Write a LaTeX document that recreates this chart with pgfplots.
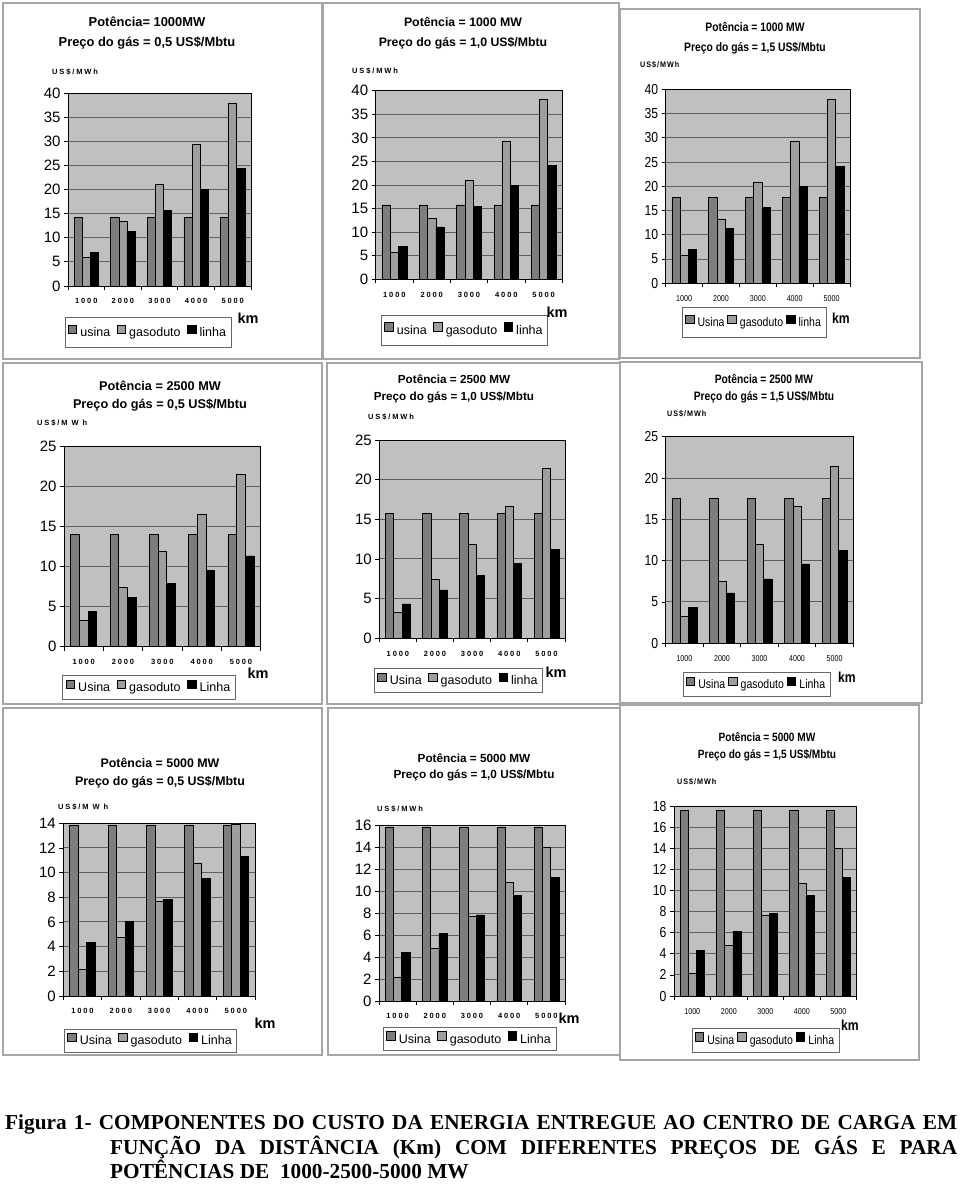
\documentclass[border=0pt]{standalone}
\usepackage{fontspec}
\setmainfont{Liberation Sans}
\newfontfamily\cond[FakeStretch=0.84]{Liberation Sans}
\newfontfamily\spaced[LetterSpace=25]{Liberation Sans}
\newfontfamily\spacedcond[LetterSpace=12,FakeStretch=0.9]{Liberation Sans}
\newfontfamily\capfont{Liberation Serif}
\usepackage{pgfplots}
\pgfplotsset{compat=1.18}
\newcommand\fs[1]{\fontsize{#1}{#1}\selectfont}
\definecolor{bgc}{RGB}{192,192,192}
\definecolor{gridc}{RGB}{95,95,95}
\definecolor{usc}{RGB}{125,125,125}
\definecolor{gac}{RGB}{158,158,158}
\definecolor{framec}{RGB}{165,165,165}

\pgfplotsset{
  panel/.style={
    scale only axis, bar width=0.2222,
    xmin=-0.5, xmax=4.5, ymin=0,
    xtick={0,1,2,3,4}, xticklabels={1000,2000,3000,4000,5000},
    minor xtick={-0.5,0.5,1.5,2.5,3.5,4.5},
    major x tick style={draw=none},
    tick align=outside, tick pos=left,
    major tick length=4pt, minor tick length=4pt,
    tick style={black, line width=0.8pt},
    ymajorgrids, grid style={gridc, line width=1pt},
    axis background/.style={fill=bgc},
    axis line style={black, line width=0.8pt},
    /pgf/number format/assume math mode=true,
    yticklabel style={font=\fs{15}},
    xticklabel style={font=\spaced\bfseries\fs{7.5}, yshift=-5pt},
    legend columns=3,
    legend style={draw=black!60, line width=0.6pt, fill=white, font=\fs{12.5},
      inner xsep=3pt, inner ysep=4pt, anchor=center,
      /tikz/every odd column/.append style={column sep=1.5pt},
      /tikz/every even column/.append style={column sep=4.5pt}},
    legend image code/.code={\draw[##1,/tikz/.cd,line width=0.5pt] (0pt,-0.5pt) rectangle (8.5pt,8pt);},
  },
  row one/.style={legend style={inner ysep=7pt}},
  cond panel/.style={panel,
    yticklabel style={font=\cond\fs{14.5}},
    xticklabel style={font=\cond\fs{8.5}},
    legend style={font=\cond\fs{12.5}, /tikz/every even column/.append style={column sep=1pt}}},
  us/.style={ybar, bar width=0.2222, bar shift=-0.2222, fill=usc, draw=black, line width=0.6pt},
  ga/.style={ybar, bar width=0.2222, bar shift=0, fill=gac, draw=black, line width=0.6pt},
  li/.style={ybar, bar width=0.2222, bar shift=0.2222, fill=black, draw=black, line width=0.6pt},
}

\begin{document}
\begin{tikzpicture}
\fill[white] (0,0) rectangle (960pt,-1184pt);
\path[use as bounding box] (0,0) rectangle (960pt,-1184pt);

% panel frames
\begin{scope}[draw=framec, line width=1.5pt]
\draw (3pt,-3pt) rectangle (322pt,-359pt);
\draw (323pt,-3pt) rectangle (619pt,-359pt);
\draw (620pt,-9pt) rectangle (920pt,-358pt);
\draw (3pt,-363pt) rectangle (322pt,-704pt);
\draw (327pt,-363pt) rectangle (620pt,-704pt);
\draw (620pt,-362pt) rectangle (922pt,-703pt);
\draw (3pt,-708pt) rectangle (322pt,-1055pt);
\draw (328pt,-708pt) rectangle (620pt,-1055pt);
\draw (620pt,-705pt) rectangle (919pt,-1060pt);
\end{scope}

% ---- Row 1: 1000 MW
\begin{axis}[panel, row one, at={(68pt,-286pt)}, anchor=south west, width=183pt, height=193pt,
  ymax=40, ytick={0,5,...,40}, legend style={at={(0.437,-0.241)}}]
\addplot[us] coordinates {(0,14.2) (1,14.2) (2,14.2) (3,14.2) (4,14.2)};
\addplot[ga] coordinates {(0,5.9) (1,13.4) (2,21.1) (3,29.3) (4,37.8)};
\addplot[li] coordinates {(0,7.0) (1,11.4) (2,15.6) (3,20.0) (4,24.4)};
\legend{usina,gasoduto,linha}
\end{axis}

\begin{axis}[panel, row one, at={(375.7pt,-279.3pt)}, anchor=south west, width=186.6pt, height=188.6pt,
  ymax=40, ytick={0,5,...,40}, legend style={at={(0.476,-0.269)}}]
\addplot[us] coordinates {(0,15.8) (1,15.8) (2,15.8) (3,15.8) (4,15.8)};
\addplot[ga] coordinates {(0,5.7) (1,12.9) (2,21.0) (3,29.2) (4,38.1)};
\addplot[li] coordinates {(0,6.9) (1,11.1) (2,15.5) (3,20.0) (4,24.1)};
\legend{usina,gasoduto,linha}
\end{axis}

\begin{axis}[cond panel, row one, at={(665.7pt,-283.3pt)}, anchor=south west, width=184.3pt, height=194pt,
  ymax=40, ytick={0,5,...,40}, legend style={at={(0.479,-0.202)}}]
\addplot[us] coordinates {(0,17.7) (1,17.7) (2,17.7) (3,17.7) (4,17.7)};
\addplot[ga] coordinates {(0,5.8) (1,13.3) (2,20.9) (3,29.3) (4,37.9)};
\addplot[li] coordinates {(0,7.0) (1,11.3) (2,15.7) (3,19.9) (4,24.1)};
\legend{Usina,gasoduto,linha}
\end{axis}

% ---- Row 2: 2500 MW
\begin{axis}[panel, at={(64pt,-646.7pt)}, anchor=south west, width=196.7pt, height=200.7pt,
  ymax=25, ytick={0,5,...,25}, legend style={at={(0.432,-0.203)}}]
\addplot[us] coordinates {(0,14.0) (1,14.0) (2,14.0) (3,14.0) (4,14.0)};
\addplot[ga] coordinates {(0,3.3) (1,7.4) (2,11.9) (3,16.5) (4,21.5)};
\addplot[li] coordinates {(0,4.35) (1,6.15) (2,7.9) (3,9.55) (4,11.3)};
\legend{Usina,gasoduto,Linha}
\end{axis}

\begin{axis}[panel, at={(379.3pt,-638.3pt)}, anchor=south west, width=185.7pt, height=198.3pt,
  ymax=25, ytick={0,5,...,25}, legend style={at={(0.426,-0.213)}}]
\addplot[us] coordinates {(0,15.7) (1,15.7) (2,15.7) (3,15.7) (4,15.7)};
\addplot[ga] coordinates {(0,3.3) (1,7.4) (2,11.8) (3,16.6) (4,21.4)};
\addplot[li] coordinates {(0,4.35) (1,6.1) (2,7.9) (3,9.4) (4,11.2)};
\legend{Usina,gasoduto,linha}
\end{axis}

\begin{axis}[cond panel, at={(665.7pt,-643.3pt)}, anchor=south west, width=187.6pt, height=206.6pt,
  ymax=25, ytick={0,5,...,25}, legend style={at={(0.484,-0.199)}}]
\addplot[us] coordinates {(0,17.5) (1,17.5) (2,17.5) (3,17.5) (4,17.5)};
\addplot[ga] coordinates {(0,3.3) (1,7.5) (2,12.0) (3,16.6) (4,21.4)};
\addplot[li] coordinates {(0,4.3) (1,6.1) (2,7.8) (3,9.6) (4,11.2)};
\legend{Usina,gasoduto,Linha}
\end{axis}

% ---- Row 3: 5000 MW
\begin{axis}[panel, at={(63.3pt,-996pt)}, anchor=south west, width=191.7pt, height=172.7pt,
  ymax=14, ytick={0,2,...,14}, legend style={at={(0.455,-0.258)}}]
\addplot[us] coordinates {(0,13.8) (1,13.8) (2,13.8) (3,13.8) (4,13.8)};
\addplot[ga] coordinates {(0,2.16) (1,4.76) (2,7.65) (3,10.76) (4,13.95)};
\addplot[li] coordinates {(0,4.35) (1,6.08) (2,7.84) (3,9.54) (4,11.3)};
\legend{Usina,gasoduto,Linha}
\end{axis}

\begin{axis}[panel, at={(379pt,-1001pt)}, anchor=south west, width=186pt, height=176pt,
  ymax=16, ytick={0,2,...,16}, legend style={at={(0.487,-0.216)}}]
\addplot[us] coordinates {(0,15.76) (1,15.76) (2,15.76) (3,15.76) (4,15.76)};
\addplot[ga] coordinates {(0,2.2) (1,4.8) (2,7.67) (3,10.76) (4,13.94)};
\addplot[li] coordinates {(0,4.4) (1,6.12) (2,7.82) (3,9.58) (4,11.27)};
\legend{Usina,gasoduto,Linha}
\end{axis}

\begin{axis}[cond panel, at={(674pt,-996pt)}, anchor=south west, width=182.7pt, height=190pt,
  ymax=18, ytick={0,2,...,18}, legend style={at={(0.501,-0.232)}}]
\addplot[us] coordinates {(0,17.6) (1,17.6) (2,17.6) (3,17.6) (4,17.6)};
\addplot[ga] coordinates {(0,2.15) (1,4.8) (2,7.67) (3,10.7) (4,14.0)};
\addplot[li] coordinates {(0,4.33) (1,6.1) (2,7.8) (3,9.54) (4,11.2)};
\legend{Usina,gasoduto,Linha}
\end{axis}

% titles
\node[align=center, font=\bfseries\fontsize{12.9}{20}\selectfont] at (147pt,-33pt) {Potência= 1000MW\\Preço do gás = 0,5 US\$/Mbtu};
\node[align=center, font=\bfseries\fontsize{12.3}{20}\selectfont] at (463pt,-33pt) {Potência = 1000 MW\\Preço do gás = 1,0 US\$/Mbtu};
\node[align=center, font=\cond\bfseries\fontsize{12.3}{20}\selectfont] at (755pt,-38pt) {Potência = 1000 MW\\Preço do gás = 1,5 US\$/Mbtu};
\node[align=center, font=\bfseries\fontsize{12.7}{17.7}\selectfont] at (160pt,-396pt) {Potência = 2500 MW\\Preço do gás = 0,5 US\$/Mbtu};
\node[align=center, font=\bfseries\fontsize{11.7}{16.7}\selectfont] at (454pt,-389pt) {Potência = 2500 MW\\Preço do gás = 1,0 US\$/Mbtu};
\node[align=center, font=\cond\bfseries\fontsize{12.2}{16.7}\selectfont] at (764pt,-389pt) {Potência = 2500 MW\\Preço do gás = 1,5 US\$/Mbtu};
\node[align=center, font=\bfseries\fontsize{12.4}{17.7}\selectfont] at (160pt,-773pt) {Potência = 5000 MW\\Preço do gás = 0,5 US\$/Mbtu};
\node[align=center, font=\bfseries\fontsize{11.75}{16}\selectfont] at (474pt,-767pt) {Potência = 5000 MW\\Preço do gás = 1,0 US\$/Mbtu};
\node[align=center, font=\cond\bfseries\fontsize{12}{16.7}\selectfont] at (767pt,-746.5pt) {Potência = 5000 MW\\Preço do gás = 1,5 US\$/Mbtu};

% unit labels
\begin{scope}[every node/.style={anchor=west, inner sep=0pt, font=\spaced\bfseries\fs{7.5}}]
\node at (52pt,-72pt) {US\$/MWh};
\node at (352pt,-71pt) {US\$/MWh};
\node[font=\spacedcond\bfseries\fs{8}] at (640pt,-65pt) {US\$/MWh};
\node at (37pt,-423pt) {US\$/M W h};
\node at (368pt,-417pt) {US\$/MWh};
\node[font=\spacedcond\bfseries\fs{8}] at (667pt,-414pt) {US\$/MWh};
\node at (58pt,-807pt) {US\$/M W h};
\node at (377pt,-809pt) {US\$/MWh};
\node[font=\spacedcond\bfseries\fs{8}] at (677pt,-782pt) {US\$/MWh};
\end{scope}

% km labels
\begin{scope}[every node/.style={inner sep=0pt, font=\bfseries\fs{14.5}}]
\node at (248pt,-318pt) {km};
\node at (557pt,-312pt) {km};
\node[font=\cond\bfseries\fs{14.5}] at (841pt,-318pt) {km};
\node at (258pt,-673pt) {km};
\node at (556pt,-672pt) {km};
\node[font=\cond\bfseries\fs{14.5}] at (847pt,-677pt) {km};
\node at (265pt,-1023pt) {km};
\node at (569pt,-1018pt) {km};
\node[font=\cond\bfseries\fs{14.5}] at (850pt,-1025pt) {km};
\end{scope}

% caption
\node[anchor=north west, inner sep=0pt, text width=952pt, align=justify,
  font=\capfont\bfseries\fontsize{21.3}{24.5}\selectfont] at (5pt,-1115pt)
  {\hangindent=105pt\hangafter=1 Figura 1- COMPONENTES DO CUSTO DA ENERGIA ENTREGUE AO CENTRO DE CARGA EM\linebreak
   FUNÇÃO DA DISTÂNCIA (Km) COM DIFERENTES PREÇOS DE GÁS E PARA\linebreak
   POTÊNCIAS DE~~1000-2500-5000 MW\par};
\end{tikzpicture}
\end{document}
